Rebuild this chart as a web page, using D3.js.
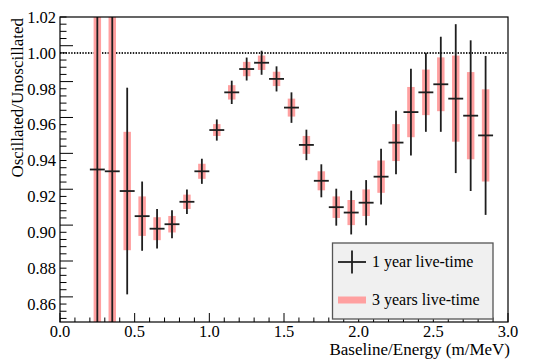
<!DOCTYPE html>
<html>
<head>
<meta charset="utf-8">
<script src="https://cdn.jsdelivr.net/npm/d3@7"></script>
<style>
  html, body { margin: 0; padding: 0; background: #fff; }
  svg { display: block; }
</style>
</head>
<body>
<svg id="chart" width="536" height="363"></svg>
<script>
// ---- data ----
const binCenters = [0.25, 0.35, 0.45, 0.55, 0.65, 0.75, 0.85, 0.95, 1.05, 1.15, 1.25, 1.35, 1.45, 1.55,
                    1.65, 1.75, 1.85, 1.95, 2.05, 2.15, 2.25, 2.35, 2.45, 2.55, 2.65, 2.75, 2.85];
const ratioValues = [0.935, 0.934, 0.923, 0.909, 0.902, 0.9045, 0.917, 0.934, 0.957, 0.978, 0.991, 0.9945, 0.9855, 0.9695,
                     0.9487, 0.9287, 0.914, 0.911, 0.9165, 0.931, 0.950, 0.967, 0.978, 0.9825, 0.9745, 0.965, 0.954];
const err1Year = [0.30, 0.30, 0.0576, 0.0193, 0.011, 0.0078, 0.0068, 0.007, 0.0059, 0.0065, 0.0064, 0.0067, 0.007, 0.0085,
                  0.0085, 0.0092, 0.0103, 0.0122, 0.0126, 0.0155, 0.0177, 0.0242, 0.022, 0.0265, 0.0415, 0.042, 0.0443];
const err3Years = [0.17, 0.17, 0.033, 0.011, 0.0064, 0.0046, 0.004, 0.0042, 0.0033, 0.004, 0.004, 0.004, 0.004, 0.005,
                   0.005, 0.0053, 0.006, 0.007, 0.0074, 0.009, 0.0103, 0.014, 0.0127, 0.015, 0.024, 0.0243, 0.0257];
const binWidth = 0.1;
const xMajorTicks = [0.0, 0.5, 1.0, 1.5, 2.0, 2.5, 3.0];
const yMajorTicks = [0.86, 0.88, 0.90, 0.92, 0.94, 0.96, 0.98, 1.00, 1.02];
const legendLabels = ["1 year live-time", "3 years live-time"];
const xTitle = "Baseline/Energy (m/MeV)";
const yTitle = "Oscillated/Unoscillated";

// ---- layout ----
const pLeft = 60, pRight = 508, pTop = 17, pBottom = 322;
const pink = "#ffa0a0";
const dark = "#1e1e1e";
const serif = "'Liberation Serif', 'Times New Roman', Times, 'DejaVu Serif', serif";

const svg = d3.select("#chart").attr("font-family", serif);
const x = d3.scaleLinear().domain([0, 3]).range([pLeft, pRight]);
const y = d3.scaleLinear().domain([0.85, 1.02]).range([pBottom, pTop]);

svg.append("defs").append("clipPath").attr("id", "plotclip")
  .append("rect").attr("x", pLeft).attr("y", pTop).attr("width", pRight - pLeft).attr("height", pBottom - pTop);

const data = binCenters.map((c, i) => ({c, v: ratioValues[i], e1: err1Year[i], e3: err3Years[i]}));

// dotted line at 1
svg.append("line")
  .attr("x1", x(0)).attr("x2", x(3) - 1)
  .attr("y1", y(1.0)).attr("y2", y(1.0))
  .attr("stroke", "#222").attr("stroke-width", 2).attr("stroke-dasharray", "1.4,1.4");

const g = svg.append("g").attr("clip-path", "url(#plotclip)");

// 3-year bars (pink)
g.selectAll("rect.e3").data(data).enter().append("rect")
  .attr("class", "e3")
  .attr("x", d => x(d.c - 0.025))
  .attr("width", d => x(d.c + 0.025) - x(d.c - 0.025))
  .attr("y", d => y(d.v + d.e3))
  .attr("height", d => y(d.v - d.e3) - y(d.v + d.e3))
  .attr("fill", pink);

// 1-year crosses
g.selectAll("line.ev").data(data).enter().append("line")
  .attr("class", "ev")
  .attr("x1", d => x(d.c)).attr("x2", d => x(d.c))
  .attr("y1", d => y(d.v + d.e1)).attr("y2", d => y(d.v - d.e1))
  .attr("stroke", dark).attr("stroke-width", 1.8);
g.selectAll("line.eh").data(data).enter().append("line")
  .attr("class", "eh")
  .attr("x1", d => x(d.c - binWidth / 2)).attr("x2", d => x(d.c + binWidth / 2))
  .attr("y1", d => y(d.v)).attr("y2", d => y(d.v))
  .attr("stroke", dark).attr("stroke-width", 1.8);

// frame
svg.append("rect").attr("x", pLeft).attr("y", pTop).attr("width", pRight - pLeft).attr("height", pBottom - pTop)
  .attr("fill", "none").attr("stroke", "#000").attr("stroke-width", 1.2);

// x axis ticks (inward)
const xMinor = d3.range(0, 31).map(i => i / 10);
svg.selectAll("line.xt").data(xMinor).enter().append("line")
  .attr("x1", d => x(d)).attr("x2", d => x(d))
  .attr("y1", pBottom).attr("y2", (d, i) => pBottom - (i % 5 === 0 ? 9 : 4.5))
  .attr("stroke", "#000").attr("stroke-width", 1);
svg.selectAll("text.xl").data(xMajorTicks).enter().append("text")
  .attr("x", d => x(d)).attr("y", 337)
  .attr("text-anchor", "middle").attr("font-size", 16.5)
  .text(d => d.toFixed(1));

// y axis ticks
const yMinor = d3.range(0, 43).map(i => 0.852 + i * 0.004);
svg.selectAll("line.yt").data(yMinor).enter().append("line")
  .attr("x1", pLeft).attr("x2", (d, i) => pLeft + ((i + 2) % 5 === 0 ? 13 : 6.5))
  .attr("y1", d => y(d)).attr("y2", d => y(d))
  .attr("stroke", "#000").attr("stroke-width", 1);
svg.selectAll("text.yl").data(yMajorTicks).enter().append("text")
  .attr("x", 56).attr("y", d => y(d)).attr("dy", "0.35em")
  .attr("text-anchor", "end").attr("font-size", 16.5)
  .text(d => d.toFixed(2));

// titles
svg.append("text").attr("x", 510).attr("y", 355).attr("text-anchor", "end")
  .attr("font-size", 17).text(xTitle);
svg.append("text").attr("transform", "translate(23,18) rotate(-90)")
  .attr("text-anchor", "end").attr("font-size", 17).text(yTitle);

// legend
const lg = svg.append("g");
lg.append("rect").attr("x", 332.5).attr("y", 243).attr("width", 160.5).attr("height", 76)
  .attr("fill", "#f0f0f0").attr("stroke", "#555").attr("stroke-width", 1.3);
lg.append("line").attr("x1", 338).attr("x2", 366).attr("y1", 262).attr("y2", 262)
  .attr("stroke", dark).attr("stroke-width", 1.8);
lg.append("line").attr("x1", 352).attr("x2", 352).attr("y1", 250.5).attr("y2", 273.5)
  .attr("stroke", dark).attr("stroke-width", 1.8);
lg.append("rect").attr("x", 338).attr("y", 296.5).attr("width", 28).attr("height", 7)
  .attr("fill", pink);
lg.append("text").attr("x", 372).attr("y", 262).attr("dy", "0.33em").attr("font-size", 16)
  .text(legendLabels[0]);
lg.append("text").attr("x", 372).attr("y", 300).attr("dy", "0.33em").attr("font-size", 16)
  .text(legendLabels[1]);
</script>
</body>
</html>
